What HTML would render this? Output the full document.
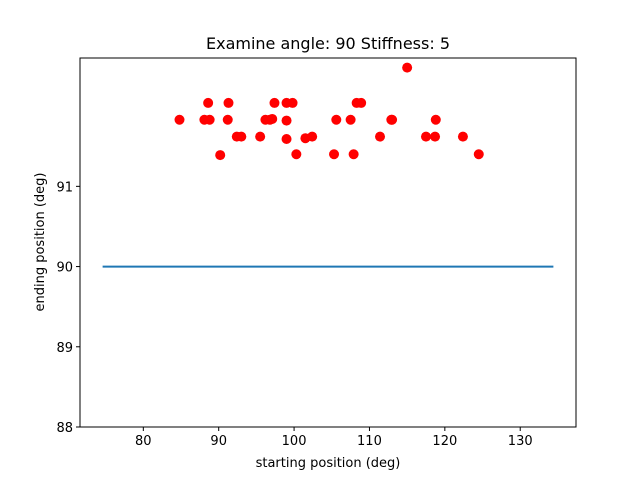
<!DOCTYPE html>
<html><head><meta charset="utf-8"><style>
body{margin:0;background:#fff;}
svg{display:block;font-family:"DejaVu Sans","Liberation Sans",sans-serif;}
</style></head><body>
<svg id="chart" width="640" height="480">
<text x="328" y="49" text-anchor="middle" font-size="16">Examine angle: 90 Stiffness: 5</text>
<g id="plot"></g>
<rect x="80" y="58" width="496" height="369" fill="none" stroke="#000" stroke-width="1"/>
<text x="328" y="467" text-anchor="middle" font-size="13">starting position (deg)</text>
<text transform="translate(44,242) rotate(-90)" text-anchor="middle" font-size="13">ending position (deg)</text>
</svg>
<script>
const startX = [84.8,88.1,88.8,88.6,91.3,91.2,90.2,92.4,93.0,95.5,96.2,96.8,97.1,97.4,99.0,99.8,99.0,99.0,100.3,101.5,102.4,105.6,105.3,107.5,107.9,108.3,108.9,111.4,112.9,113.0,115.0,117.5,118.7,118.8,122.4,124.5];
const endY = [91.83,91.83,91.83,92.04,92.04,91.83,91.39,91.62,91.62,91.62,91.83,91.83,91.84,92.04,92.04,92.04,91.82,91.59,91.40,91.60,91.62,91.83,91.40,91.83,91.40,92.04,92.04,91.62,91.83,91.83,92.48,91.62,91.62,91.83,91.62,91.40];
const refLineX = [74.6,134.4];
const refLineY = [90,90];
const xTicks = [80,90,100,110,120,130];
const yTicks = [88,89,90,91];
const ns="http://www.w3.org/2000/svg";
const X0=71.6,X1=137.4,Y0=88,Y1=92.6,L=80,R=576,T=58,B=427;
function sx(v){return L+(v-X0)/(X1-X0)*(R-L);}
function sy(v){return B-(v-Y0)/(Y1-Y0)*(B-T);}
const g=document.getElementById('plot');
function mk(tag,attrs){const e=document.createElementNS(ns,tag);for(const k in attrs)e.setAttribute(k,attrs[k]);g.appendChild(e);return e;}
const ln=mk('line',{x1:sx(refLineX[0]),x2:sx(refLineX[1]),y1:sy(refLineY[0]),y2:sy(refLineY[1]),stroke:'#1f77b4','stroke-width':2});


startX.forEach((v,i)=>{
 const c=mk('circle',{cx:sx(v),cy:sy(endY[i]),r:5,fill:'#ff0000'});
 
 
});
xTicks.forEach(t=>{
 const x=sx(t);
 const tk=mk('line',{x1:x,x2:x,y1:B,y2:B+4,stroke:'#000'});
 
 
 const tx=mk('text',{x:x,y:B+18,'text-anchor':'middle','font-size':13});
 tx.textContent=t;
 
 
});
yTicks.forEach(t=>{
 const y=sy(t);
 const tk=mk('line',{x1:L-4,x2:L,y1:y,y2:y,stroke:'#000'});
 
 
 const tx=mk('text',{x:L-7,y:y+5,'text-anchor':'end','font-size':13});
 tx.textContent=t;
 
 
});
</script>
</body></html>
